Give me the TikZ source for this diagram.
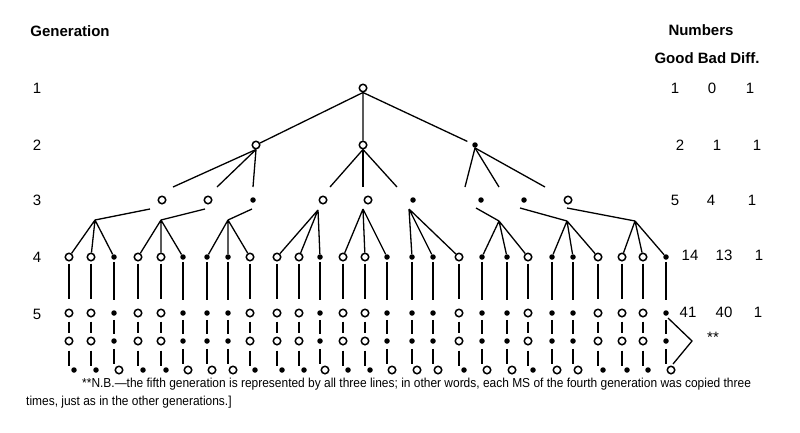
\documentclass[tikz,border=0pt]{standalone}
\usepackage{fontspec}
\setmainfont{Liberation Sans}
\newfontfamily\notefont[FakeStretch=0.92]{Liberation Sans}
\usetikzlibrary{calc}

\begin{document}
\begin{tikzpicture}[x=1pt, y=-1pt,
    goodms/.style={circle, draw, line width=1.5pt, minimum size=7.5pt, inner sep=0pt},
    badms/.style={circle, fill, minimum size=5.5pt, inner sep=0pt},
    link/.style={line width=1.3pt},
    stem/.style={line width=1.2pt},
    hdr/.style={font=\fontsize{15}{18}\selectfont\bfseries},
    num/.style={font=\fontsize{15}{18}\selectfont, inner sep=0pt},
    note/.style={font=\notefont\fontsize{13}{15}\selectfont, inner sep=0pt}]
  \useasboundingbox (0,0) rectangle (800,432);

  \node[hdr] (genhead) at (70,31) {Generation};
  \node[hdr] (numhead) at (701,30) {Numbers};
  \node[hdr] (colhead) at (707,58) {Good Bad Diff.};
  \foreach \g/\yy in {1/88, 2/145, 3/200, 4/257, 5/314}
    \node[num] (lab\g) at (37,\yy) {\g};
  \foreach \g/\yy/\xa/\na/\xb/\nb/\xc in {1/88/675/1/712/0/750, 2/145/680/2/717/1/757,
      3/200/675/5/711/4/752, 4/255/690/14/724/13/759, 5/312/688/41/724/40/758} {
    \node[num] (good\g) at (\xa,\yy) {\na};
    \node[num] (bad\g) at (\xb,\yy) {\nb};
    \node[num] (diff\g) at (\xc,\yy) {1};
  }

  \node[goodms] (root) at (363,88) {};
  \node[goodms] (s1) at (256,145) {};
  \node[goodms] (s2) at (363,145) {};
  \node[badms] (s3) at (475,145) {};
  \draw[link, shorten >=5.5pt] (root.south) -- (s1) (root.south) -- (s2) (root.south) -- (s3);

  \foreach \k/\xx/\t in {1/162/goodms, 2/208/goodms, 3/253/badms, 4/323/goodms, 5/368/goodms,
      6/413/badms, 7/481/badms, 8/524/badms, 9/568/goodms}
    \node[\t] (t\k) at (\xx,200) {};
  \foreach \p/\k/\dx in {s1/1/11, s1/2/9, s1/3/0, s2/4/7, s2/5/-5, s2/6/-16, s3/7/-16, s3/8/-25, s3/9/-23}
    \draw[link] (\p.south) -- ([shift={(\dx,-13)}]t\k.center);

  \foreach \k/\xx/\t/\u in {1/69/goodms/badms, 2/91/goodms/badms, 3/114/badms/goodms,
      4/138/goodms/badms, 5/161/goodms/badms, 6/183/badms/goodms, 7/207/badms/goodms,
      8/228/badms/goodms, 9/250/goodms/badms, 10/277/goodms/badms, 11/299/goodms/badms,
      12/320/badms/goodms, 13/343/goodms/badms, 14/365/goodms/badms, 15/387/badms/goodms,
      16/412/badms/goodms, 17/433/badms/goodms, 18/459/goodms/badms, 19/482/badms/goodms,
      20/507/badms/goodms, 21/528/goodms/badms, 22/552/badms/goodms, 23/573/badms/goodms,
      24/598/goodms/badms, 25/622/goodms/badms, 26/643/goodms/badms, 27/666/badms/goodms} {
    \node[\t] (q\k) at (\xx,257) {};
    \node[\t] (r1-\k) at (\xx,313) {};
    \node[\t] (r2-\k) at (\xx,341) {};
    \node[\u] (r3-\k) at (\xx+5,370) {};
    \draw[stem, shorten <=2pt, shorten >=10pt] (q\k.south) -- (r1-\k.north);
    \draw[stem, shorten <=4pt, shorten >=4pt] (r1-\k.south) -- (r2-\k.north);
    \draw[stem, shorten <=5pt, shorten >=1.5pt] (r2-\k.south) -- (r2-\k.south |- r3-\k.north);
  }

  \coordinate (fork1) at (95,220);
  \coordinate (fork2) at (161,220);
  \coordinate (fork3) at (228,220);
  \coordinate (fork4) at (318,210);
  \coordinate (fork5) at (363,209);
  \coordinate (fork6) at (409,209);
  \coordinate (fork7) at (499,221);
  \coordinate (fork8) at (567,221);
  \coordinate (fork9) at (635,221);
  \foreach \k/\dx/\dy in {1/-12/9, 2/-3/9, 3/-1/9, 7/-5/8, 8/-4/8, 9/-1/8}
    \draw[link] ([shift={(\dx,\dy)}]t\k.center) -- (fork\k);
  \foreach \k in {1,...,9} {
    \pgfmathtruncatemacro\qa{3*\k-2}
    \pgfmathtruncatemacro\qb{3*\k-1}
    \pgfmathtruncatemacro\qc{3*\k}
    \draw[link] (fork\k) -- (q\qa) (fork\k) -- (q\qb) (fork\k) -- (q\qc);
  }

  \coordinate (tip) at (692,341);
  \draw[link] ([shift={(2,5)}]r1-27.center) -- (tip) -- ([shift={(2,-6)}]r3-27.center);
  \node[num] (stars) at (713,337) {**};

  \node[note, anchor=west] (nb1) at (82,384) {**N.B.—the fifth generation is represented by all three lines; in other words, each MS of the fourth generation was copied three};
  \node[note, anchor=west] (nb2) at (26,402) {times, just as in the other generations.]};
\end{tikzpicture}
\end{document}
